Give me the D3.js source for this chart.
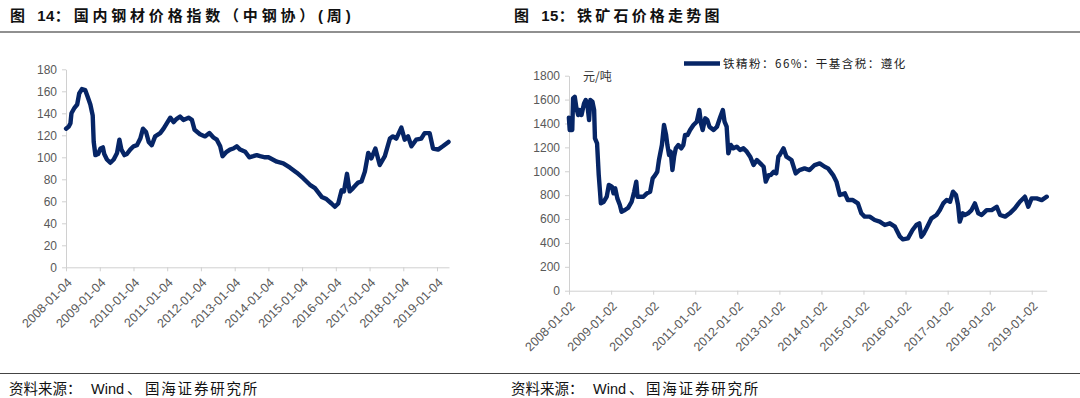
<!DOCTYPE html>
<html><head><meta charset="utf-8">
<script src="https://cdn.jsdelivr.net/npm/d3@7"></script>
<style>
html,body{margin:0;padding:0;background:#fff;}
svg{display:block;}
.title{font-family:"Liberation Sans","Noto Sans CJK SC",sans-serif;font-weight:700;font-size:15px;fill:#111;}
.foot{font-family:"Liberation Sans","Noto Sans CJK SC",sans-serif;font-size:14.5px;fill:#111;}
.tick text{font-family:"Liberation Sans",Arial,sans-serif;font-size:12px;fill:#595959;}
</style></head>
<body>
<svg id="c" width="1080" height="398"></svg>
<script>
// ---- Data ----
// Fig 14: domestic steel price index (CSPI), weekly; time as decimal year
const steelT = [2008.01,2008.09,2008.14,2008.17,2008.26,2008.34,2008.40,2008.48,2008.58,2008.65,2008.73,2008.80,2008.83,2008.88,2008.96,
 2009.03,2009.10,2009.14,2009.22,2009.32,2009.42,2009.52,2009.59,2009.65,2009.74,2009.81,2009.91,
 2010.01,2010.11,2010.21,2010.29,2010.38,2010.46,2010.55,2010.65,2010.80,2010.90,
 2011.00,2011.10,2011.20,2011.29,2011.39,2011.49,2011.64,2011.74,2011.82,2011.98,
 2012.13,2012.26,2012.38,2012.48,2012.58,2012.65,2012.77,2012.87,2012.97,
 2013.07,2013.17,2013.32,2013.44,2013.56,2013.66,2013.76,2013.91,
 2014.01,2014.26,2014.45,2014.65,2014.85,2015.04,2015.24,2015.39,2015.59,2015.73,2015.88,2015.98,
 2016.08,2016.18,2016.25,2016.34,2016.42,2016.52,2016.67,2016.77,2016.87,2016.97,
 2017.06,2017.18,2017.31,2017.46,2017.61,2017.70,2017.80,2017.95,
 2018.05,2018.15,2018.25,2018.39,2018.54,2018.64,2018.79,2018.89,2019.04,2019.18,2019.35];
const steelV = [126,128,131,140,145,148,158,162,161,155,148,138,114,102,103,
 108,109,103,98,95,98,104,116,107,102,103,107,
 110,111,117,126,123,114,111,119,122,126,
 131,136,132,135,137,134,136,134,125,121,
 119,122,118,116,110,101,105,107,108,
 110,107,105,100,101,102,101,100,
 100,96,94.5,90.6,86,81,75,72,64,62,58,55,
 58,70,69,85,69,72,77,78,87,104,
 99,108,93,101,117,119,117,127,
 116,119,110,116,117,122,122,108,107,110,114];
const steelTicks = ["2008-01-04","2009-01-04","2010-01-04","2011-01-04","2012-01-04","2013-01-04","2014-01-04","2015-01-04","2016-01-04","2017-01-04","2018-01-04","2019-01-04"];
const steelY = [0,20,40,60,80,100,120,140,160,180];

// Fig 15: iron ore price (yuan/ton)
const oreT = [2008.00,2008.02,2008.08,2008.10,2008.14,2008.18,2008.22,2008.26,2008.30,2008.36,2008.40,2008.44,2008.48,2008.51,2008.56,2008.60,2008.62,2008.67,2008.71,2008.74,2008.76,2008.83,2008.90,2008.95,
 2009.02,2009.06,2009.10,2009.15,2009.21,2009.25,2009.33,2009.41,2009.49,2009.55,2009.60,2009.63,2009.71,2009.77,2009.85,2009.93,2009.99,
 2010.05,2010.10,2010.14,2010.21,2010.26,2010.31,2010.34,2010.38,2010.42,2010.46,2010.50,2010.54,2010.60,2010.67,2010.72,2010.76,2010.82,2010.88,2010.96,
 2011.04,2011.10,2011.14,2011.18,2011.24,2011.29,2011.34,2011.44,2011.52,2011.60,2011.66,2011.70,2011.75,2011.79,2011.85,2011.91,2011.99,
 2012.07,2012.15,2012.23,2012.31,2012.39,2012.47,2012.55,2012.63,2012.68,2012.75,2012.80,2012.87,2012.93,2012.98,
 2013.01,2013.10,2013.17,2013.29,2013.39,2013.48,2013.60,2013.72,2013.84,2013.96,
 2014.08,2014.16,2014.28,2014.36,2014.44,2014.56,2014.63,2014.75,2014.87,2014.95,
 2015.03,2015.15,2015.27,2015.39,2015.51,2015.63,2015.75,2015.87,2015.94,
 2016.06,2016.17,2016.26,2016.33,2016.38,2016.44,2016.52,2016.62,2016.74,2016.82,2016.90,2016.98,
 2017.06,2017.13,2017.20,2017.25,2017.29,2017.36,2017.41,2017.49,2017.57,2017.65,2017.73,2017.81,2017.93,
 2018.05,2018.17,2018.25,2018.37,2018.48,2018.60,2018.72,2018.84,2018.92,
 2019.00,2019.12,2019.24,2019.36];
const oreV = [1449,1345,1345,1610,1624,1527,1471,1513,1471,1568,1596,1555,1429,1596,1582,1513,1275,1234,968,829,731,745,787,885,
 871,815,857,773,717,661,675,695,745,829,913,787,787,787,815,829,941,
 968,996,1094,1220,1387,1303,1220,1136,1164,1010,1122,1192,1220,1192,1220,1303,1303,1345,1387,
 1415,1513,1401,1345,1443,1429,1373,1345,1373,1457,1513,1415,1373,1150,1220,1192,1206,
 1178,1192,1164,1122,1052,1094,1066,1038,913,968,968,996,982,1122,
 1136,1192,1122,1094,982,1010,1024,1010,1052,1066,
 1038,1024,968,913,801,815,759,759,731,648,
 620,620,592,578,550,564,536,452,430,
 438,508,550,564,452,480,536,606,634,675,731,759,
 745,829,801,717,578,648,634,648,675,731,648,634,675,
 675,703,634,620,648,689,745,787,703,
 773,773,759,787];
const oreTicks = ["2008-01-02","2009-01-02","2010-01-02","2011-01-02","2012-01-02","2013-01-02","2014-01-02","2015-01-02","2016-01-02","2017-01-02","2018-01-02","2019-01-02"];
const oreY = [0,200,400,600,800,1000,1200,1400,1600,1800];

const title1 = ["图 ","14","：国内钢材价格指数（中钢协）(周)"];
const title2 = ["图 ","15","：铁矿石价格走势图"];
const sourceParts = ["资料来源：","Wind","、","国海证券研究所"];
const legendLabel = "铁精粉：66%：干基含税：遵化";
const unitLabel = "元/吨";

// ---- Drawing ----
const svg = d3.select("#c");
const LINE = "#062566";
const parse = d3.timeParse("%Y-%m-%d");
function dec(t){const y=Math.floor(t);const s=new Date(y,0,1);return new Date(s.getTime()+(t-y)*365.25*864e5);}

function pieces(parts, xs, y, cls, spacing){
  const t = svg.append("text").attr("class",cls).attr("y",y);
  parts.forEach((p,i)=>{
    const ts = t.append("tspan").text(p);
    if(xs && xs[i]!=null) ts.attr("x",xs[i]);
    if(spacing && spacing[i]) ts.attr("letter-spacing",spacing[i]);
  });
  return t;
}
pieces(title1,[10,null,null],21,"title",[4,0.5,3.8]);
pieces(title2,[514,null,null],21,"title",[4,0.5,3.2]);
svg.append("line").attr("x1",0).attr("x2",1080).attr("y1",32).attr("y2",32).attr("stroke","#222").attr("stroke-width",1.2);
svg.append("line").attr("x1",0).attr("x2",1080).attr("y1",373.5).attr("y2",373.5).attr("stroke","#444").attr("stroke-width",1.2);
pieces(sourceParts,[9,91,127,145],394,"foot",[0,0,0,1.8]);
pieces(sourceParts,[511,593,629,646],394,"foot",[0,0,0,1.8]);

function panel(cfg){
  const ticks = cfg.ticks.map(parse);
  const x = d3.scaleTime().domain([ticks[0], cfg.end]).range([cfg.x0, cfg.x1]);
  const y = d3.scaleLinear().domain([0, cfg.ymax]).range([cfg.yb, cfg.yt]);
  const g = svg.append("g");
  const ya = g.append("g").attr("transform",`translate(${cfg.x0},0)`)
    .call(d3.axisLeft(y).tickValues(cfg.yticks).tickSize(4).tickSizeOuter(0).tickPadding(5).tickFormat(d3.format("d")));
  ya.select(".domain").attr("stroke","#d0d0d0");
  ya.selectAll(".tick line").attr("stroke","#d0d0d0");
  const xa = g.append("g").attr("transform",`translate(0,${cfg.yb})`)
    .call(d3.axisBottom(x).tickValues(ticks).tickSize(4).tickSizeOuter(0).tickFormat(d3.timeFormat("%Y-%m-%d")));
  xa.select(".domain").attr("stroke","#d0d0d0");
  xa.selectAll(".tick line").attr("stroke","#d0d0d0");
  xa.selectAll(".tick text").attr("text-anchor","end").attr("dy","0.35em").attr("y",0)
    .attr("transform","translate(3,13) rotate(-45)").style("font-size","12.5px");
  const pts = cfg.t.map((t,i)=>[dec(t), cfg.v[i]]);
  g.append("path").datum(pts)
    .attr("fill","none").attr("stroke",LINE).attr("stroke-width",4.4).attr("stroke-linejoin","round").attr("stroke-linecap","round")
    .attr("d", d3.line().x(d=>x(d[0])).y(d=>y(d[1])));
  return {x,y,g};
}

panel({ticks:steelTicks, end:new Date(2019,4,14), x0:66, x1:449, yb:267.3, yt:69.3, ymax:180, yticks:steelY, t:steelT, v:steelV});
panel({ticks:oreTicks, end:new Date(2019,4,12), x0:569, x1:1046.7, yb:290.7, yt:75.7, ymax:1800, yticks:oreY, t:oreT, v:oreV});

svg.append("line").attr("x1",684).attr("x2",720).attr("y1",63.5).attr("y2",63.5).attr("stroke",LINE).attr("stroke-width",4.4);
svg.append("text").attr("x",723).attr("y",68).attr("font-family","'Noto Sans CJK SC',sans-serif").attr("font-size",11.5).attr("fill","#222").attr("letter-spacing",1.5).text(legendLabel);
svg.append("text").attr("x",583).attr("y",80.5).attr("font-family","'Noto Sans CJK SC',sans-serif").attr("font-size",12).attr("fill","#333").text(unitLabel);
</script>
</body></html>
